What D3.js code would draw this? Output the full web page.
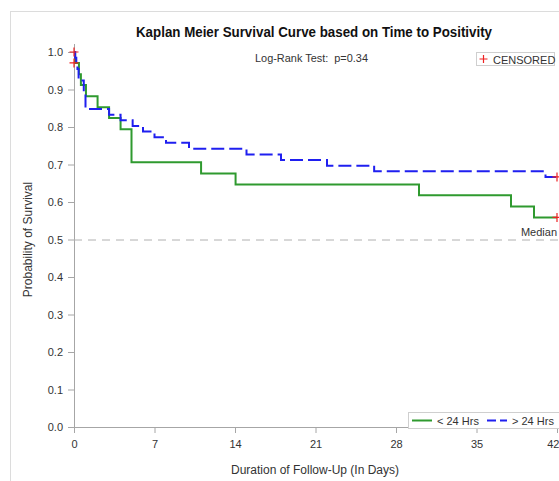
<!DOCTYPE html>
<html>
<head>
<meta charset="utf-8">
<script src="https://cdn.jsdelivr.net/npm/d3@7"></script>
<style>
  html, body { margin: 0; padding: 0; background: #fff; }
  svg { display: block; font-family: "Liberation Sans", Arial, sans-serif; }
</style>
</head>
<body>
<svg id="chart" width="559" height="481"></svg>
<script>
// Kaplan-Meier step estimates, one list of step times and survival per group
const groupNames = ["< 24 Hrs", "> 24 Hrs"];

const lt24Times = [0, 0.1, 0.43, 0.6, 1.04, 2.05, 3.05, 4.05, 5.0, 11.05, 14.05, 30.0, 38.0, 40.0];
const lt24Surv  = [1.0, 0.971, 0.941, 0.912, 0.882, 0.853, 0.824, 0.794, 0.706, 0.676, 0.647, 0.618, 0.588, 0.559];

const gt24Times = [0, 0.1, 0.2, 0.3, 0.4, 0.85, 1.0, 3.05, 4.05, 5.1, 6.0, 7.0, 8.0, 10.0, 15.0, 18.0, 22.0, 26.1, 41.0];
const gt24Surv  = [1.0, 0.985, 0.97, 0.955, 0.924, 0.894, 0.848, 0.833, 0.818, 0.803, 0.788, 0.773, 0.758, 0.742, 0.727, 0.712, 0.697, 0.682, 0.667];

// follow-up ends for both groups
const lastTime = 42;

// censored observations: [time, survival]
const censorPoints = [[0, 1.0], [0, 0.971], [42, 0.667], [42, 0.559]];

const xTicks = [0, 7, 14, 21, 28, 35, 42];
const yTicks = [0, 0.1, 0.2, 0.3, 0.4, 0.5, 0.6, 0.7, 0.8, 0.9, 1.0];
const medianLevel = 0.5;
const logRankText = "Log-Rank Test:  p=0.34";

const svg = d3.select("#chart");

// outer frame
svg.append("rect")
  .attr("x", 10.5).attr("y", 11.5)
  .attr("width", 600).attr("height", 500)
  .attr("fill", "none").attr("stroke", "#dcdcdc");

const x = d3.scaleLinear().domain([0, 42]).range([74, 557]);
const y = d3.scaleLinear().domain([0, 1]).range([427, 52]);

const axisColor = "#a6a6a6";
const textColor = "#333";

// x axis
const xAxis = svg.append("g")
  .attr("transform", `translate(0,${y(0)})`)
  .call(d3.axisBottom(x).tickValues(xTicks).tickSize(6).tickPadding(7).tickFormat(d3.format("d")));
xAxis.select(".domain").attr("d", `M${x(0)},0.5H600`);
// last tick label sits at the window edge: right-align it so it stays readable
xAxis.selectAll(".tick text").filter(d => d === 42)
  .attr("text-anchor", "end").attr("dx", "2");

// y axis
const yAxis = svg.append("g")
  .attr("transform", `translate(${x(0)},0)`)
  .call(d3.axisLeft(y).tickValues(yTicks).tickSize(6).tickPadding(5).tickFormat(d3.format(".1f")));
yAxis.select(".domain").attr("d", `M0.5,44V${y(0) + 1}`);

[xAxis, yAxis].forEach(g => {
  g.selectAll(".domain").attr("stroke", axisColor).attr("stroke-width", 1);
  g.selectAll(".tick line").attr("stroke", axisColor);
  g.selectAll(".tick text").attr("fill", textColor)
    .style("font-size", "11px").style("font-family", "'Liberation Sans', Arial, sans-serif");
});

// median reference line
svg.append("line")
  .attr("x1", x(0)).attr("x2", 600)
  .attr("y1", y(medianLevel) + 0.5).attr("y2", y(medianLevel) + 0.5)
  .attr("stroke", "#b0b0b0").attr("stroke-width", 1)
  .attr("stroke-dasharray", "8,6");

svg.append("text")
  .attr("x", 557).attr("y", y(medianLevel) - 4)
  .attr("text-anchor", "end")
  .attr("fill", textColor).style("font-size", "11px")
  .text("Median");

// survival step curves
const stepLine = d3.line().x(d => x(d[0])).y(d => y(d[1])).curve(d3.curveStepAfter);
function stepPoints(times, surv) {
  const pts = times.map((t, i) => [t, surv[i]]);
  pts.push([lastTime, surv[surv.length - 1]]);
  return pts;
}

svg.append("path")
  .datum(stepPoints(lt24Times, lt24Surv))
  .attr("d", stepLine)
  .attr("fill", "none").attr("stroke", "#2f9a2f").attr("stroke-width", 2);

svg.append("path")
  .datum(stepPoints(gt24Times, gt24Surv))
  .attr("d", stepLine)
  .attr("fill", "none").attr("stroke", "#1f1ff0").attr("stroke-width", 2)
  .attr("stroke-dasharray", "13,5");

// censor marks: thin plus signs
svg.append("g").selectAll("path")
  .data(censorPoints)
  .join("path")
  .attr("transform", d => `translate(${x(d[0])},${y(d[1])})`)
  .attr("d", "M-4.5,0H4.5M0,-4.5V4.5")
  .attr("fill", "none").attr("stroke", "#ee2222").attr("stroke-width", 1.2);

// title
svg.append("text")
  .attr("x", 314).attr("y", 37)
  .attr("text-anchor", "middle")
  .attr("fill", "#111").style("font-size", "14px").style("font-weight", "bold")
  .attr("textLength", 356).attr("lengthAdjust", "spacingAndGlyphs")
  .text("Kaplan Meier Survival Curve based on Time to Positivity");

svg.append("text")
  .attr("x", 255).attr("y", 62)
  .attr("fill", textColor).style("font-size", "11px")
  .style("white-space", "pre")
  .attr("textLength", 113).attr("lengthAdjust", "spacingAndGlyphs")
  .text(logRankText);

// censored legend
const censLeg = svg.append("g");
censLeg.append("rect")
  .attr("x", 476.5).attr("y", 52.5).attr("width", 78).attr("height", 13)
  .attr("fill", "#fff").attr("stroke", "#cfcfcf");
censLeg.append("path")
  .attr("d", "M479.5,59H487.5M483.5,55V63")
  .attr("stroke", "#ee2222").attr("stroke-width", 1.2);
censLeg.append("text")
  .attr("x", 493).attr("y", 63.5)
  .attr("fill", textColor).style("font-size", "11px")
  .text("CENSORED");

// group legend
const leg = svg.append("g");
leg.append("rect")
  .attr("x", 408.5).attr("y", 412.5).attr("width", 170).attr("height", 16)
  .attr("fill", "#fff").attr("stroke", "#cfcfcf");
leg.append("line")
  .attr("x1", 412).attr("x2", 432).attr("y1", 420.5).attr("y2", 420.5)
  .attr("stroke", "#2f9a2f").attr("stroke-width", 2);
leg.append("text")
  .attr("x", 437).attr("y", 424.5)
  .attr("fill", textColor).style("font-size", "11px")
  .text(groupNames[0]);
leg.append("line")
  .attr("x1", 487).attr("x2", 507).attr("y1", 420.5).attr("y2", 420.5)
  .attr("stroke", "#1f1ff0").attr("stroke-width", 2)
  .attr("stroke-dasharray", "9,4");
leg.append("text")
  .attr("x", 512).attr("y", 424.5)
  .attr("fill", textColor).style("font-size", "11px")
  .text(groupNames[1]);

// axis titles
svg.append("text")
  .attr("x", 315).attr("y", 474)
  .attr("text-anchor", "middle")
  .attr("fill", textColor).style("font-size", "12px")
  .text("Duration of Follow-Up (In Days)");

svg.append("text")
  .attr("transform", `translate(32,${y(0.5)}) rotate(-90)`)
  .attr("text-anchor", "middle")
  .attr("fill", textColor).style("font-size", "12px")
  .text("Probability of Survival");
</script>
</body>
</html>
